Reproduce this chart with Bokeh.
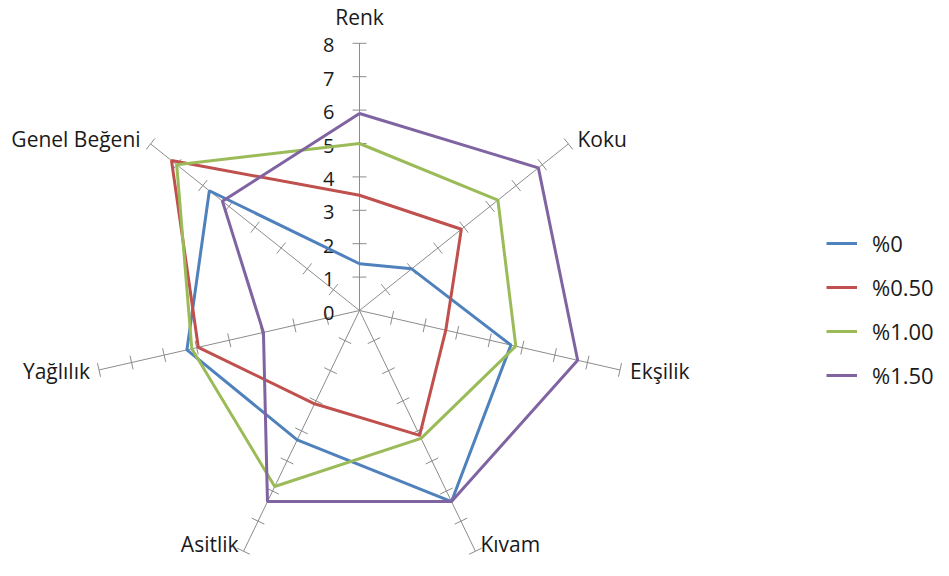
import numpy as np
from bokeh.plotting import figure
from bokeh.models import ColumnDataSource, Legend, LegendItem
from bokeh.embed import file_html
from bokeh.resources import INLINE
from bokeh.core.properties import value

# ---- data ----
categories = ["Renk", "Koku", "Ekşilik", "Kıvam", "Asitlik", "Yağlılık", "Genel Beğeni"]
series_names = ["%0", "%0.50", "%1.00", "%1.50"]
s_0 = [1.4, 2.0, 4.65, 6.35, 4.3, 5.3, 5.75]
s_050 = [3.45, 3.9, 2.65, 4.15, 3.1, 4.95, 7.2]
s_100 = [5.0, 5.3, 4.8, 4.25, 5.85, 5.15, 7.0]
s_150 = [5.9, 6.85, 6.7, 6.35, 6.35, 2.95, 5.25]
tick_values = [0, 1, 2, 3, 4, 5, 6, 7, 8]
tick_labels = ["0", "1", "2", "3", "4", "5", "6", "7", "8"]

series_values = [s_0, s_050, s_100, s_150]
colors = ["#4F81BD", "#C0504D", "#9BBB59", "#8064A2"]
axis_color = "#8C8C8C"
font = "Open Sans"

n = len(categories)
rmax = tick_values[-1]
angles = np.pi / 2 - 2 * np.pi * np.arange(n) / n

# pixel scale: 33.4 px per unit
W, H = 933, 560
scale = 33.4
cx_px, cy_px = 359.0, 310.0  # centre within the frame
x0 = -cx_px / scale
y1 = cy_px / scale
p = figure(width=W, height=H, x_range=(x0, x0 + W / scale), y_range=(y1 - H / scale, y1),
           output_backend="svg", toolbar_location=None, min_border=0,
           outline_line_color=None)
p.axis.visible = False
p.grid.visible = False
p.background_fill_color = "white"

# spokes
p.segment(x0=np.zeros(n), y0=np.zeros(n), x1=rmax * np.cos(angles), y1=rmax * np.sin(angles),
          line_color=axis_color, line_width=1)

# tick marks on every spoke
half = 7.0 / scale
tx0, ty0, tx1, ty1 = [], [], [], []
for a in angles:
    for t in tick_values[1:]:
        cx, cy = t * np.cos(a), t * np.sin(a)
        px, py = -np.sin(a), np.cos(a)
        tx0.append(cx - px * half); ty0.append(cy - py * half)
        tx1.append(cx + px * half); ty1.append(cy + py * half)
p.segment(x0=tx0, y0=ty0, x1=tx1, y1=ty1, line_color=axis_color, line_width=1)

# value labels on first spoke
p.text(x=[t * np.cos(angles[0]) for t in tick_values], y=[t * np.sin(angles[0]) for t in tick_values],
       text=tick_labels, text_align="right", text_baseline="middle", x_offset=-25, y_offset=2,
       text_font=value(font), text_font_size="20px", text_color="#1a1a1a")

# category labels
offsets = [(0, -26, "center"), (9, -5, "left"), (10, 1, "left"), (5, -7, "left"),
           (-5, -7, "right"), (-9, 1, "right"), (-10, -5, "right")]
for i, cat in enumerate(categories):
    xo, yo, al = offsets[i]
    p.text(x=[rmax * np.cos(angles[i])], y=[rmax * np.sin(angles[i])], text=[cat],
           x_offset=xo, y_offset=yo, text_align=al, text_baseline="middle",
           text_font=value(font), text_font_size="21px", text_color="#1a1a1a")

# series
items = []
for name, vals, col in zip(series_names, series_values, colors):
    v = np.array(vals + [vals[0]])
    a = np.append(angles, angles[0])
    src = ColumnDataSource(dict(x=v * np.cos(a), y=v * np.sin(a)))
    r = p.line("x", "y", source=src, line_color=col, line_width=3)
    items.append(LegendItem(label=name, renderers=[r]))

legend = Legend(items=items, location=(826, 170), orientation="vertical",
                glyph_width=31, glyph_height=30, label_height=30, spacing=14,
                padding=0, margin=0, border_line_color=None, background_fill_alpha=0,
                label_text_font=font, label_text_font_size="22px", label_standoff=15,
                label_text_color="#1a1a1a")
p.add_layout(legend)

open("out.html", "w").write(file_html(p, INLINE))
